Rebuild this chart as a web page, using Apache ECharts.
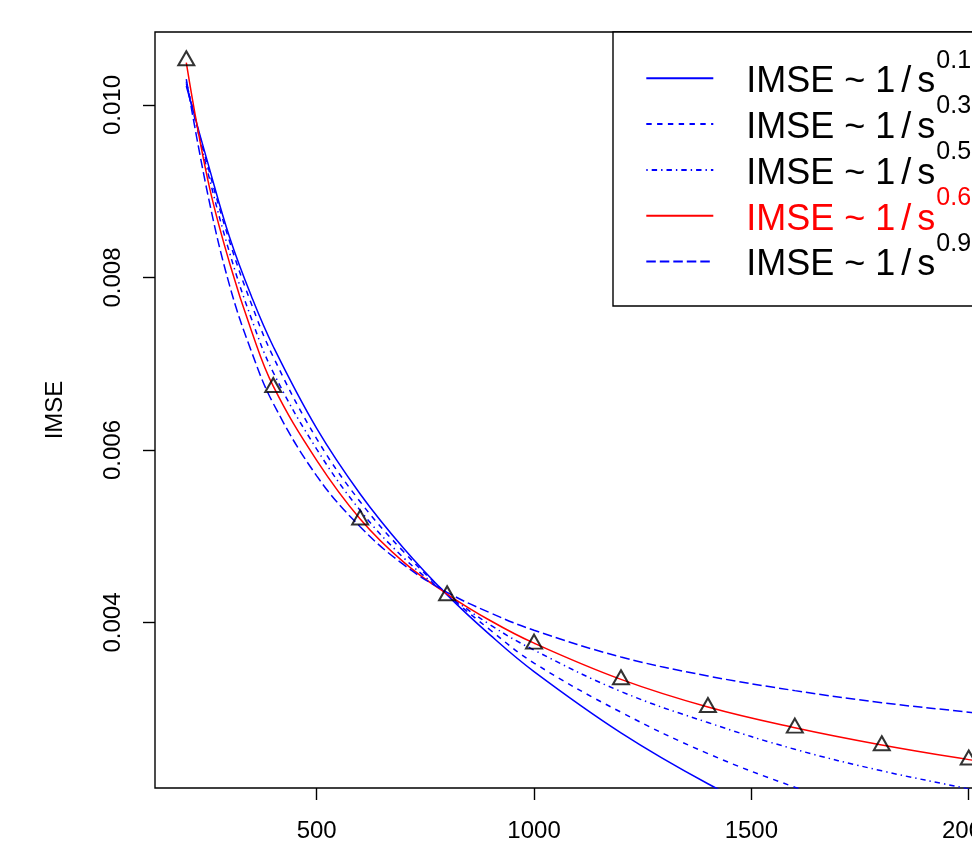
<!DOCTYPE html>
<html><head><meta charset="utf-8">
<script src="https://cdn.jsdelivr.net/npm/echarts@6/dist/echarts.min.js"></script>
<style>html,body{margin:0;padding:0;overflow:hidden;background:#fff}#c{width:1100px;height:845px}</style>
</head><body><div id="c"></div>
<script>
// observed IMSE at sample sizes s
const sizes = [200, 400, 600, 800, 1000, 1200, 1400, 1600, 1800, 2000];
const imse  = [0.010515, 0.006727, 0.005191, 0.004312, 0.003751, 0.003338, 0.003017, 0.002777, 0.002573, 0.002408];

// fitted curves at these s values
const curveS = [200, 250, 300, 350, 400, 500, 600, 700, 800, 900, 1000, 1200, 1400, 1600, 1800, 2000, 2072];
const fit01 = [0.01022, 0.00932, 0.00846, 0.00778, 0.00720, 0.00625, 0.00549, 0.00486, 0.00432, 0.00385, 0.00343, 0.00272, 0.00213, 0.00163, null, null, null];
const fit03 = [0.01025, 0.00928, 0.00841, 0.00769, 0.00708, 0.00613, 0.00540, 0.00482, 0.00433, 0.00391, 0.00353, 0.00296, 0.00248, 0.00209, 0.00175, null, null];
const fit05 = [0.01027, 0.00921, 0.00828, 0.00752, 0.00690, 0.00601, 0.00530, 0.00475, 0.00433, 0.00397, 0.00368, 0.00320, 0.00284, 0.00253, 0.00228, 0.00207, 0.00199];
const fit06 = [0.01049, 0.00912, 0.00816, 0.00738, 0.00674, 0.00588, 0.00520, 0.00470, 0.00433, 0.00402, 0.00376, 0.00334, 0.00302, 0.00278, 0.00258, 0.00241, 0.00236];
const fit09 = [0.01030, 0.00895, 0.00790, 0.00714, 0.00654, 0.00570, 0.00511, 0.00467, 0.00435, 0.00411, 0.00391, 0.00360, 0.00338, 0.00321, 0.00307, 0.00296, 0.00292];

const exponents = ['0.1', '0.3', '0.5', '0.6', '0.9'];
const xTicks = [500, 1000, 1500, 2000];
const yTicks = [0.004, 0.006, 0.008, 0.010];

const fits = [fit01, fit03, fit05, fit06, fit09];
const colors = ['#0000ff', '#0000ff', '#0000ff', '#ff0000', '#0000ff'];
const dashes = ['solid', [5.4, 5.4], [1.4, 4, 5.4, 4], 'solid', [9.5, 4]];
const names = exponents.map(e => 'IMSE ~ 1/s^' + e);

function pairs(xs, ys) {
  const out = [];
  xs.forEach((x, i) => { if (ys[i] !== null) out.push([x, ys[i]]); });
  return out;
}

const axisFont = "'Liberation Sans', Arial, sans-serif";
const legFont = "'Liberation Sans', Arial, sans-serif";

const series = fits.map((f, i) => ({
  name: names[i], type: 'line', data: pairs(curveS, f),
  symbol: 'none', smooth: 0.4, clip: true, silent: true, z: 2,
  lineStyle: { color: colors[i], width: 1.5, type: dashes[i], cap: 'butt' },
  itemStyle: { color: colors[i] }
}));
series.push({
  name: 'obs', type: 'scatter', data: pairs(sizes, imse), z: 5,
  symbol: 'triangle', symbolSize: [16, 14], symbolOffset: [0, -2.3],
  itemStyle: { color: 'rgba(0,0,0,0)', borderColor: '#000', borderWidth: 2 }
});

const rich = {};
['', 'r'].forEach(k => {
  const c = k === 'r' ? '#ff0000' : '#000000';
  rich['m' + k] = { fontSize: 36, fontFamily: legFont, color: c, verticalAlign: 'bottom', lineHeight: 53 };
  rich['s' + k] = { fontSize: 36, fontFamily: legFont, color: c, verticalAlign: 'bottom', lineHeight: 53, padding: [0, 6, 0, 6] };
  rich['p' + k] = { fontSize: 25, fontFamily: legFont, color: c, verticalAlign: 'top', lineHeight: 53, padding: [1, 0, 0, 1] };
});

const chart = echarts.init(document.getElementById('c'), null, { renderer: 'canvas' });
chart.setOption({
  animation: false,
  backgroundColor: '#fff',
  grid: { left: 155, top: 32, width: 845, height: 756, show: true, borderColor: '#000', borderWidth: 1.4, backgroundColor: 'rgba(0,0,0,0)' },
  xAxis: {
    type: 'value', min: 128, max: 2072,
    axisLine: { show: false }, splitLine: { show: false },
    axisTick: { show: true, customValues: xTicks, length: 12, lineStyle: { color: '#000', width: 1.4 } },
    axisLabel: { customValues: xTicks, margin: 31, fontSize: 24, fontFamily: axisFont, color: '#000',
      formatter: v => String(v) }
  },
  yAxis: {
    type: 'value', min: 0.002081, max: 0.010846,
    name: 'IMSE', nameLocation: 'middle', nameGap: 88,
    nameTextStyle: { fontSize: 24, fontFamily: axisFont, color: '#000' },
    axisLine: { show: false }, splitLine: { show: false },
    axisTick: { show: true, customValues: yTicks, length: 12, lineStyle: { color: '#000', width: 1.4 } },
    axisLabel: { customValues: yTicks, rotate: 90, margin: 30, fontSize: 24, fontFamily: axisFont, color: '#000',
      formatter: v => v.toFixed(3) }
  },
  legend: {
    orient: 'vertical', left: 613, top: 32,
    padding: [15.3, 60, 13.5, 32.3], itemGap: -16.2,
    itemWidth: 67, itemHeight: 14,
    borderColor: '#000', borderWidth: 1.4, backgroundColor: '#fff',
    itemStyle: { color: 'rgba(0,0,0,0)', borderWidth: 0 },
    data: names,
    selectedMode: false,
    formatter: function (name) {
      const i = names.indexOf(name);
      const k = colors[i] === '#ff0000' ? 'r' : '';
      return '{m' + k + '|IMSE ~ 1}{s' + k + '|/}{m' + k + '|s}{p' + k + '|' + exponents[i] + '}';
    },
    textStyle: { fontSize: 36, fontFamily: legFont, color: '#000', lineHeight: 53, padding: [0, 0, 9, 28], rich: rich }
  },
  series: series
});
</script></body></html>
